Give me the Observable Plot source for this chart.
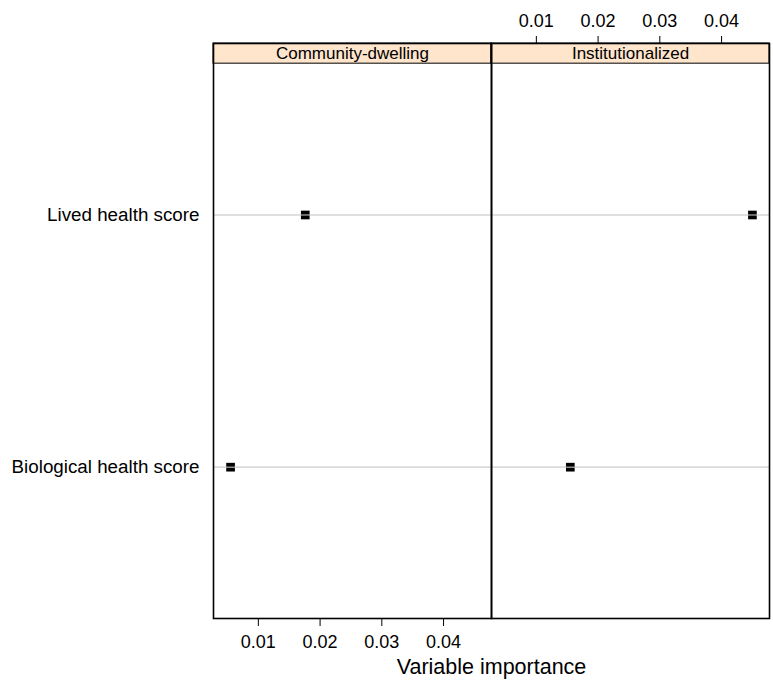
<!DOCTYPE html>
<html>
<head>
<meta charset="utf-8">
<script src="https://cdn.jsdelivr.net/npm/d3@7"></script>
<script src="https://cdn.jsdelivr.net/npm/@observablehq/plot@0.6"></script>
<style>
  html, body { margin: 0; padding: 0; background: white; }
</style>
</head>
<body>
<div id="chart"></div>
<script>
// ---- data ----
const categories = ["Biological health score", "Lived health score"];
const panels = ["Community-dwelling", "Institutionalized"];
const communityValues = [0.0055, 0.0176];
const institutionalizedValues = [0.0155, 0.0450];
const xTicks = [0.01, 0.02, 0.03, 0.04];
const xLabel = "Variable importance";

// rows for the dot plot
const seriesByPanel = [communityValues, institutionalizedValues];
const rows = [];
panels.forEach((p, pi) => {
  categories.forEach((c, ci) => {
    rows.push({panel: p, category: c, pos: ci + 1, value: seriesByPanel[pi][ci]});
  });
});

// lattice-like scale limits: extend data range by 7%
const allVals = rows.map(d => d.value);
const vmin = d3.min(allVals), vmax = d3.max(allVals);
const ext = 0.07 * (vmax - vmin);
const xDomain = [vmin - ext, vmax + ext];
// categorical axis limits (0.4 .. n+0.6), plus room for the strip
const nCat = categories.length;
const panelTop = nCat + 0.6;
const stripTop = panelTop + 0.08;

const font = "'Liberation Sans', Arial, Helvetica, sans-serif";

const chart = Plot.plot({
  width: 773,
  height: 689,
  marginLeft: 213,
  marginRight: 3.5,
  marginTop: 43,
  marginBottom: 71,
  style: {fontFamily: font, fontSize: "16px", background: "white", color: "black"},
  fx: {domain: panels, padding: 0, axis: null},
  x: {domain: xDomain, axis: null},
  y: {domain: [0.4, stripTop], axis: null},
  marks: [
    Plot.ruleY(rows, {fx: "panel", y: "pos", stroke: "#d6d6d6", strokeWidth: 1.2}),
    Plot.dot(rows, {fx: "panel", x: "value", y: "pos", symbol: "square", r: 4.9, fill: "black", stroke: "none"}),
    Plot.ruleY(rows, {fx: "panel", y: "pos", stroke: "#d6d6d6", strokeWidth: 1}),
    Plot.rect(panels, {fx: d => d, y1: panelTop, y2: stripTop, fill: "#ffe5cc", stroke: "black", strokeWidth: 1}),
    Plot.text(panels, {fx: d => d, text: d => d, y: (panelTop + stripTop) / 2, fontSize: 17, fill: "black"}),
    Plot.frame({stroke: "black", strokeWidth: 1.6}),
    Plot.axisY(d3.range(1, nCat + 1), {
      anchor: "left", tickSize: 0, tickPadding: 14, fontSize: 18.8,
      tickFormat: i => categories[i - 1], label: null
    }),
    Plot.axisX(xTicks, {
      fx: () => panels[0], anchor: "bottom", facetAnchor: null,
      tickSize: 8, tickPadding: 9, fontSize: 18, label: null,
      tickFormat: d3.format(".2f")
    }),
    Plot.axisX(xTicks, {
      fx: () => panels[1], anchor: "top", facetAnchor: null,
      tickSize: 8, tickPadding: 9, fontSize: 18, label: null,
      tickFormat: d3.format(".2f")
    }),
    Plot.text([xLabel], {text: d => d, frameAnchor: "bottom", dy: 55, fontSize: 21.5, facet: "super"})
  ]
});
document.getElementById("chart").appendChild(chart);
</script>
</body>
</html>
